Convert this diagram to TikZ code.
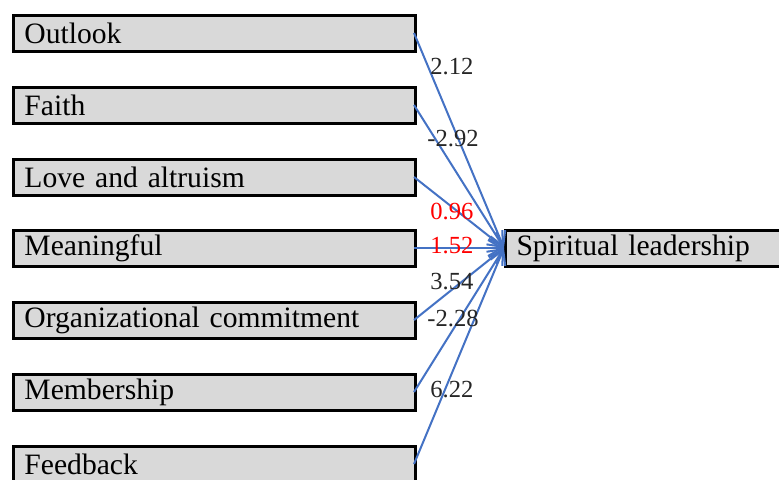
\documentclass[tikz,border=0pt]{standalone}
\usepackage{fontspec}
\setmainfont{Liberation Serif}
\usetikzlibrary{arrows.meta}
\definecolor{boxgray}{RGB}{217,217,217}
\definecolor{linkblue}{RGB}{68,114,196}

\begin{document}
\begin{tikzpicture}[x=0.5pt, y=-0.5pt,
    factor/.style={draw, line width=1.5pt, fill=boxgray, anchor=west,
        text width=190pt, inner xsep=5.5pt, inner ysep=0pt, minimum height=18pt,
        align=left, font=\fontsize{14.8}{16}\selectfont},
    weight/.style={anchor=west, inner sep=0pt, text=black!85, font=\fontsize{12.3}{14}\selectfont},
    link/.style={linkblue, line width=1pt, -{Straight Barb[length=7pt, width=8pt]}}]
    % frame
    \useasboundingbox (0,0) rectangle (779,479);
    \clip (0,0) rectangle (779,479);

    % factors (left)
    \node[factor] (outlook) at (12, 33) {Outlook};
    \node[factor] (faith) at (12, 105) {Faith};
    \node[factor] (love) at (12, 177) {Love and altruism};
    \node[factor] (meaning) at (12, 248) {Meaningful};
    \node[factor] (commit) at (12, 320) {Organizational commitment};
    \node[factor] (member) at (12, 392) {Membership};
    \node[factor] (feedback) at (12, 464) {Feedback};

    % outcome (right)
    \node[factor, text width=200pt] (leader) at (504, 248) {Spiritual leadership};

    % paths
    \foreach \f in {outlook, faith, love, meaning, commit, member, feedback}
        \draw[link] ([xshift=-1.5pt]\f.east) -- (leader.west);

    % weights
    \node[weight] (w1) at (430, 67) {2.12};
    \node[weight] (w2) at (427, 139) {-2.92};
    \node[weight, text=red] (w3) at (430, 211) {0.96};
    \node[weight, text=red] (w4) at (430, 246) {1.52};
    \node[weight] (w5) at (430, 282) {3.54};
    \node[weight] (w6) at (427, 318) {-2.28};
    \node[weight] (w7) at (430, 390) {6.22};
\end{tikzpicture}
\end{document}
